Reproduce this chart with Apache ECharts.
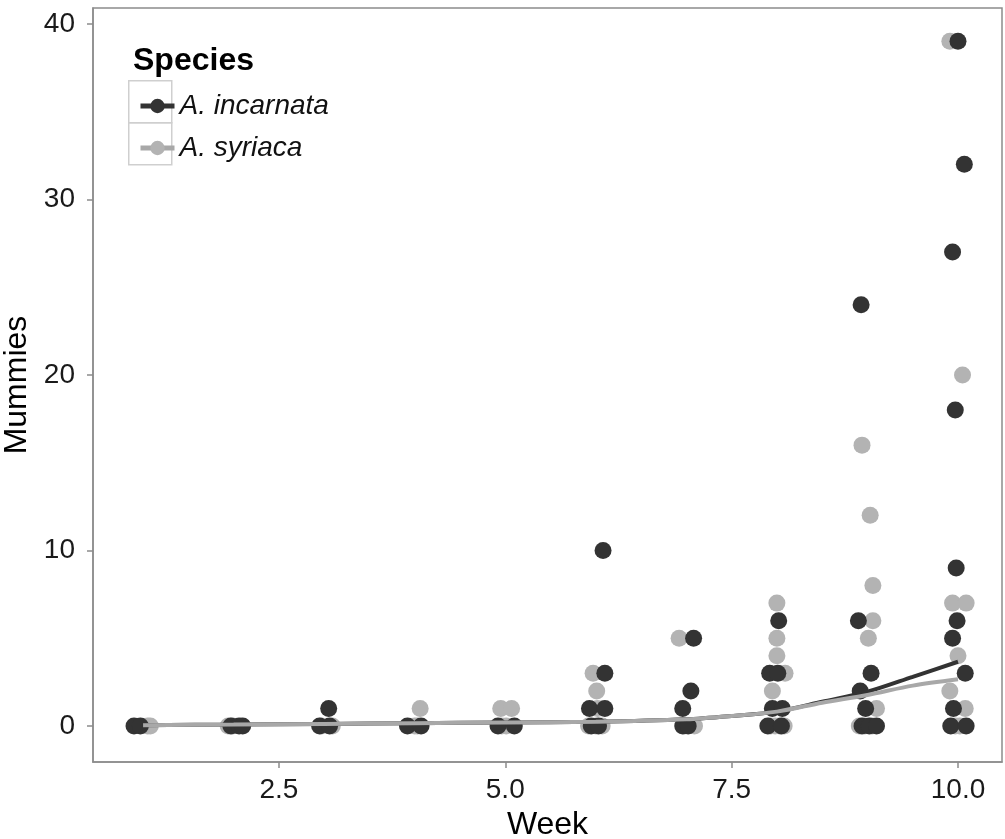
<!DOCTYPE html>
<html><head><meta charset="utf-8">
<script src="https://cdn.jsdelivr.net/npm/echarts@6/dist/echarts.min.js"></script>
<style>html,body{margin:0;padding:0;background:#fff}#c{width:1005px;height:839px}</style>
</head><body><div id="c"></div>
<script>
// ---- data (x = jittered week) ----
const speciesNames = ['A. incarnata', 'A. syriaca'];
const xTicks = [2.5, 5, 7.5, 10];
const yTicks = [0, 10, 20, 30, 40];

const incarnataPoints = [
  [0.90,0],[0.97,0],
  [1.97,0],[2.06,0],[2.10,0],
  [2.95,0],[3.06,0],[3.05,1],
  [3.92,0],[4.07,0],
  [4.92,0],[5.10,0],
  [5.95,0],[6.03,0],[6.08,10],[6.10,3],[5.93,1],[6.10,1],
  [6.96,0],[7.08,5],[7.05,2],[6.96,1],[7.02,0],
  [7.92,3],[8.01,3],[8.02,6],[7.95,1],[8.06,1],[7.90,0],[8.05,0],
  [8.93,24],[8.90,6],[9.04,3],[8.92,2],[8.98,1],[8.94,0],[9.02,0],[9.10,0],
  [10.00,39],[10.07,32],[9.94,27],[9.97,18],[9.98,9],[9.99,6],[9.94,5],[10.08,3],[9.95,1],[9.92,0],[10.09,0]
];
const syriacaPoints = [
  [1.05,0],[1.08,0],
  [1.94,0],[1.99,0],
  [2.97,0],[3.09,0],
  [4.00,0],[4.06,1],[4.03,0],
  [4.95,1],[5.07,1],[5.01,0],[4.96,0],
  [5.97,3],[6.01,2],[6.02,1],[6.00,0],[6.07,0],[5.92,0],
  [6.92,5],[7.09,0],[6.98,0],
  [8.00,7],[8.00,5],[8.00,4],[8.09,3],[7.95,2],[7.93,0],[7.98,0],[8.03,0],[8.08,0],
  [8.94,16],[9.03,12],[9.06,8],[9.06,6],[9.01,5],[9.10,1],[8.91,0],[8.97,0],[9.05,0],
  [9.91,39],[10.05,20],[9.94,7],[10.09,7],[10.00,4],[9.91,2],[10.08,1],[10.02,0],[9.97,0]
];
const fitWeeks     = [1, 2, 3, 4, 5, 6, 7, 7.5, 8, 8.5, 9, 9.5, 10];
const incarnataFit = [0.05,0.08,0.12,0.16,0.2,0.24,0.38,0.57,0.82,1.38,1.95,2.8,3.66];
const syriacaFit   = [0.05,0.08,0.12,0.16,0.2,0.24,0.38,0.57,0.82,1.33,1.77,2.3,2.66];

// ---- chart ----
const FONT = '"Liberation Sans", Arial, Helvetica, sans-serif';
const DARK = '#333333', LIGHT = '#b3b3b3', LIGHTLINE = '#a8a8a8';
const zip = (xs, ys) => xs.map((x, i) => [x, ys[i]]);

const chart = echarts.init(document.getElementById('c'), null, {renderer: 'canvas'});
chart.setOption({
  animation: false,
  backgroundColor: '#fff',
  textStyle: {fontFamily: FONT},
  title: {
    text: 'Species', left: 128, top: 40,
    textStyle: {fontFamily: FONT, fontSize: 32, fontWeight: 'bold', color: '#000'}
  },
  legend: {
    orient: 'vertical', left: 133, top: 80,
    data: speciesNames,
    itemWidth: 34, itemHeight: 18, itemGap: 0, itemTextGap: 11,
    lineStyle: {width: 5},
    textStyle: {fontFamily: FONT, fontSize: 28, fontStyle: 'italic', color: '#111', lineHeight: 42},
    selectedMode: false
  },
  graphic: [
    {type: 'rect', left: 128, top: 80, z: 1, shape: {width: 43, height: 42}, style: {fill: 'transparent', stroke: '#cfcfcf', lineWidth: 1.5}},
    {type: 'rect', left: 128, top: 122, z: 1, shape: {width: 43, height: 42}, style: {fill: 'transparent', stroke: '#cfcfcf', lineWidth: 1.5}}
  ],
  grid: {left: 93, top: 8, width: 909, height: 754, show: true, borderColor: '#8c8c8c', borderWidth: 1.5,
         backgroundColor: '#fff', containLabel: false, outerBoundsMode: 'none'},
  xAxis: {
    type: 'value', min: 0.447, max: 10.486,
    name: 'Week', nameLocation: 'middle', nameGap: 42,
    nameTextStyle: {fontFamily: FONT, fontSize: 32, color: '#000'},
    splitLine: {show: false},
    axisLine: {show: true, onZero: false, lineStyle: {color: '#8c8c8c', width: 1.5}},
    axisTick: {show: true, length: 6, customValues: xTicks, lineStyle: {color: '#8c8c8c', width: 1.5}},
    axisLabel: {customValues: xTicks, fontFamily: FONT, fontSize: 28, color: '#1a1a1a', margin: 14,
      formatter: v => Number(v).toFixed(1)}
  },
  yAxis: {
    type: 'value', min: -2.05, max: 40.9,
    name: 'Mummies', nameLocation: 'middle', nameGap: 46,
    nameTextStyle: {fontFamily: FONT, fontSize: 32, color: '#000'},
    splitLine: {show: false},
    axisLine: {show: true, onZero: false, lineStyle: {color: '#8c8c8c', width: 1.5}},
    axisTick: {show: true, length: 6, customValues: yTicks, lineStyle: {color: '#8c8c8c', width: 1.5}},
    axisLabel: {customValues: yTicks, fontFamily: FONT, fontSize: 28, color: '#1a1a1a', margin: 18,
      formatter: v => String(Math.round(v))}
  },
  series: [
    {name: speciesNames[0], type: 'line', data: zip(fitWeeks, incarnataFit), smooth: 0.3,
     symbol: 'circle', showSymbol: false, z: 5,
     lineStyle: {color: DARK, width: 4}, itemStyle: {color: DARK}},
    {name: speciesNames[1], type: 'line', data: zip(fitWeeks, syriacaFit), smooth: 0.3,
     symbol: 'circle', showSymbol: false, z: 5,
     lineStyle: {color: LIGHTLINE, width: 4}, itemStyle: {color: LIGHT}},
    {name: speciesNames[1], type: 'scatter', data: syriacaPoints, symbolSize: 17, z: 2,
     itemStyle: {color: LIGHT, opacity: 1}},
    {name: speciesNames[0], type: 'scatter', data: incarnataPoints, symbolSize: 17, z: 3,
     itemStyle: {color: DARK, opacity: 1}}
  ]
});
</script></body></html>
